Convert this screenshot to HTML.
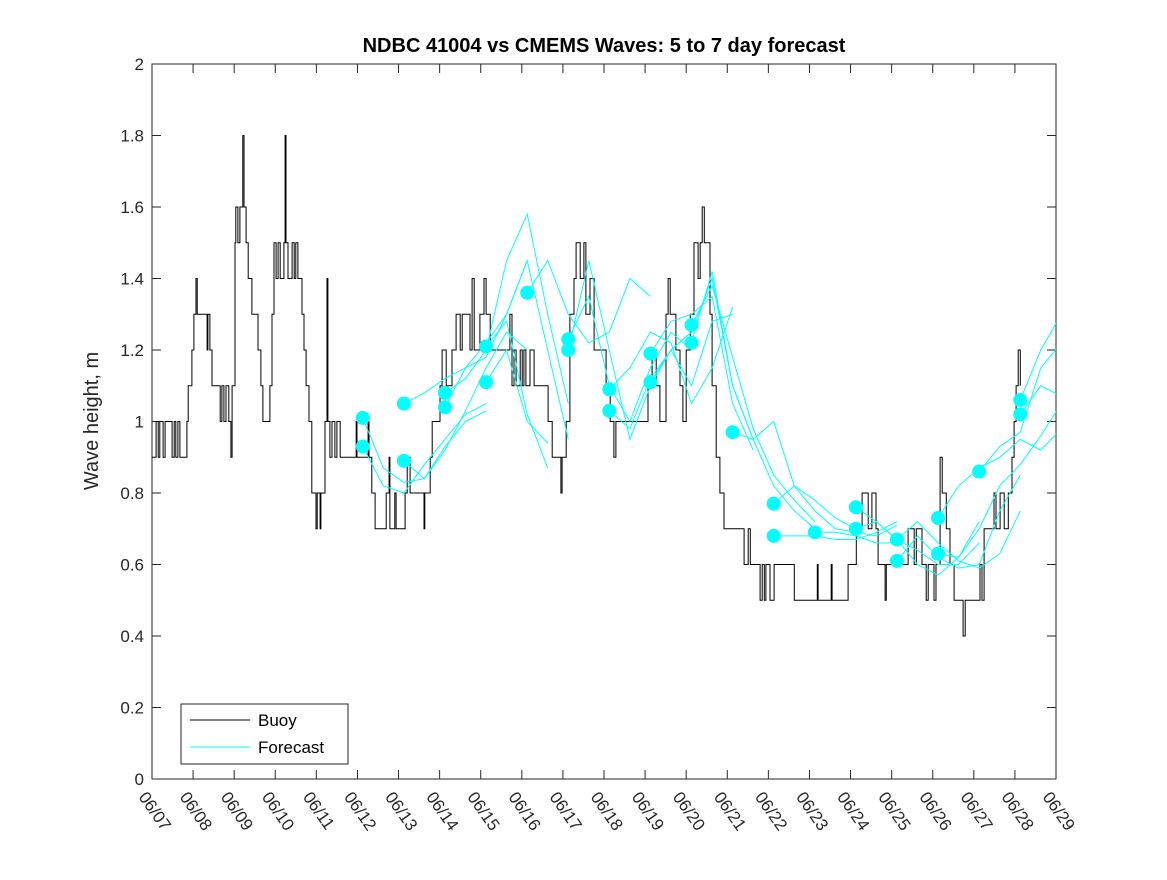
<!DOCTYPE html>
<html><head><meta charset="utf-8"><style>
body{margin:0;background:#fff}
svg text{font-family:"Liberation Sans",sans-serif;fill:#262626}
</style></head><body>
<svg id="chart" width="1167" height="875">
<rect width="1167" height="875" fill="#fff"/>
<text x="604" y="52" font-size="20" font-weight="bold" text-anchor="middle" style="fill:#000">NDBC 41004 vs CMEMS Waves: 5 to 7 day forecast</text>
<text transform="translate(98,421) rotate(-90)" font-size="20" text-anchor="middle">Wave height, m</text>
<g id="axes"></g>
<g id="series" clip-path="url(#clip)"></g>
<defs><clipPath id="clip"><rect x="152" y="64" width="904" height="715"/></clipPath></defs>
<g id="markers"></g>
<g>
<rect x="181" y="704" width="167" height="60" fill="#fff" stroke="#262626" stroke-width="1"/>
<line x1="190" y1="720" x2="250" y2="720" stroke="#000" stroke-width="1"/>
<text x="258" y="726" font-size="17" style="fill:#000">Buoy</text>
<line x1="190" y1="747" x2="250" y2="747" stroke="#00ffff" stroke-width="1"/>
<text x="258" y="753" font-size="17" style="fill:#000">Forecast</text>
</g>
</svg>
<script>
const dayLabels=["06/07","06/08","06/09","06/10","06/11","06/12","06/13","06/14","06/15","06/16","06/17","06/18","06/19","06/20","06/21","06/22","06/23","06/24","06/25","06/26","06/27","06/28","06/29"];
const yTicks=[0,0.2,0.4,0.6,0.8,1,1.2,1.4,1.6,1.8,2];
const buoyDays=[0,.10,.15,.19,.27,.32,.49,.54,.58,.63,.68,.85,.88,.97,1.02,1.07,1.10,1.34,1.36,1.41,1.46,1.66,1.70,1.75,1.80,1.87,1.92,1.95,2.02,2.04,2.09,2.14,2.21,2.24,2.29,2.34,2.43,2.58,2.65,2.70,2.87,2.92,2.97,3.02,3.07,3.12,3.21,3.24,3.26,3.31,3.41,3.46,3.50,3.55,3.65,3.70,3.75,3.82,3.89,3.99,4.02,4.09,4.11,4.21,4.26,4.28,4.33,4.38,4.45,4.50,4.58,4.97,4.99,5.09,5.26,5.28,5.35,5.43,5.70,5.77,5.79,5.91,5.94,6.16,6.21,6.28,6.52,6.62,6.64,6.77,6.82,7.01,7.06,7.16,7.30,7.40,7.50,7.55,7.74,7.79,7.84,7.98,8.08,8.13,8.23,8.59,8.71,8.76,8.81,8.86,8.96,9.01,9.05,9.10,9.20,9.30,9.64,9.74,9.88,9.95,9.98,10.08,10.17,10.27,10.32,10.42,10.51,10.56,10.66,10.76,10.90,11.05,11.15,11.24,11.29,11.39,11.54,12.07,12.17,12.27,12.36,12.51,12.56,12.61,12.75,12.85,12.92,13.00,13.10,13.19,13.29,13.34,13.39,13.44,13.53,13.58,13.63,13.73,13.82,13.92,14.41,14.51,14.56,14.70,14.80,14.85,14.90,14.94,15.04,15.14,15.29,15.63,16.16,16.19,16.21,16.50,16.53,16.55,16.89,16.94,17.04,17.14,17.28,17.43,17.52,17.62,17.67,17.84,17.87,17.96,18.40,18.55,18.60,18.74,18.84,18.89,19.03,19.08,19.18,19.23,19.33,19.42,19.52,19.72,19.74,19.79,20.10,20.15,20.20,20.25,20.40,20.49,20.54,20.64,20.74,20.84,20.93,20.98,21.03,21.08,21.13];
const buoyVals=[0.9,1.0,0.9,1.0,0.9,1.0,0.9,1.0,0.9,1.0,0.9,1.0,1.1,1.2,1.3,1.4,1.3,1.2,1.3,1.2,1.1,1.0,1.1,1.0,1.1,1.0,0.9,1.1,1.5,1.6,1.5,1.6,1.8,1.6,1.5,1.4,1.3,1.2,1.1,1.0,1.1,1.3,1.5,1.4,1.5,1.4,1.5,1.8,1.5,1.4,1.5,1.4,1.5,1.4,1.3,1.2,1.1,1.0,0.8,0.7,0.8,0.7,0.8,1.0,1.4,1.0,0.9,1.0,0.9,1.0,0.9,1.0,0.9,0.9,1.0,0.9,0.8,0.7,0.8,0.9,0.7,0.8,0.7,0.8,0.9,0.8,0.8,0.7,0.8,0.9,1.0,1.1,1.2,1.1,1.2,1.3,1.2,1.3,1.2,1.4,1.2,1.3,1.4,1.3,1.2,1.2,1.3,1.1,1.2,1.1,1.2,1.1,1.2,1.1,1.2,1.1,1.0,0.9,0.9,0.8,0.9,1.0,1.3,1.4,1.5,1.4,1.5,1.3,1.4,1.2,1.2,1.1,1.0,0.9,1.0,1.0,1.0,1.1,1.2,1.1,1.0,1.3,1.4,1.3,1.2,1.1,1.0,1.2,1.3,1.5,1.4,1.5,1.6,1.5,1.5,1.3,1.1,0.9,0.8,0.7,0.6,0.7,0.6,0.6,0.5,0.6,0.5,0.6,0.5,0.6,0.6,0.5,0.5,0.6,0.5,0.5,0.6,0.5,0.5,0.6,0.6,0.7,0.8,0.7,0.8,0.7,0.6,0.5,0.6,0.6,0.7,0.6,0.7,0.6,0.5,0.6,0.5,0.6,0.9,0.8,0.7,0.6,0.5,0.5,0.4,0.5,0.5,0.6,0.5,0.7,0.7,0.8,0.7,0.8,0.7,0.8,0.9,1.0,1.1,1.2,1.1];
const fcStartDays=[5.13,5.13,6.13,6.13,7.13,7.13,8.13,8.13,9.13,10.13,10.13,11.13,11.13,12.13,12.13,13.13,13.13,14.13,15.13,15.13,16.13,17.13,17.13,18.13,18.13,19.13,19.13,20.13,21.13,21.13];
const fcValues=[
[1.01,0.87,0.83,0.84,0.93,1.0,1.03],
[0.93,0.82,0.80,0.88,0.95,1.02,1.05],
[1.05,1.08,1.12,1.15,1.22,1.30,1.45],
[0.89,0.84,0.92,1.03,1.15,1.25,1.20],
[1.08,1.12,1.20,1.45,1.58,1.30,1.05],
[1.04,1.15,1.18,1.30,1.45,1.20,0.95],
[1.21,1.28,1.02,0.87],
[1.11,1.20,1.00,0.94],
[1.36,1.45,1.30,1.22,1.25,1.40,1.35],
[1.23,1.35,1.10,1.00,1.15,1.25,1.20],
[1.20,1.45,1.20,0.95,1.10,1.20,1.25],
[1.09,1.15,1.25,1.22,1.05,1.15,1.32],
[1.03,0.98,1.12,1.20,1.10,1.28,1.30],
[1.19,1.28,1.30,1.35,1.05,0.92],
[1.11,1.20,1.25,1.40,1.10,0.95],
[1.27,1.38,1.18,0.98,0.85,0.78,0.72],
[1.22,1.42,1.10,0.95,0.82,0.75,0.70],
[0.97,0.95,1.00,0.82,0.78,0.73,0.70],
[0.77,0.82,0.75,0.70,0.69,0.68,0.71],
[0.68,0.68,0.68,0.67,0.67,0.69,0.72],
[0.69,0.69,0.68,0.66,0.66],
[0.76,0.72,0.67,0.64,0.60,0.60,0.66],
[0.70,0.72,0.67,0.60,0.57,0.62,0.72],
[0.67,0.72,0.66,0.61,0.59,0.63,0.75],
[0.61,0.68,0.62,0.59,0.60,0.75,0.85],
[0.73,0.82,0.87,0.90,0.95,0.92,0.98],
[0.63,0.62,0.70,0.82,0.88,0.96,1.05],
[0.86,0.93,0.97,1.15,1.22,1.30,1.30],
[1.06,1.20,1.30,1.33],
[1.02,1.10,1.07]];
const fcStep=0.5;

const X0=152,X1=1056,Y0=779,Y1=64,D=22,VMAX=2;
const xs=d=>X0+d*(X1-X0)/D;
const ys=v=>Y0-v*(Y0-Y1)/VMAX;
const NS="http://www.w3.org/2000/svg";
function mk(tag,attrs,parent){const e=document.createElementNS(NS,tag);for(const k in attrs)e.setAttribute(k,attrs[k]);parent.appendChild(e);return e;}
const axes=document.getElementById('axes');
const box=mk('rect',{x:X0,y:Y1,width:X1-X0,height:Y0-Y1,fill:'none',stroke:'#262626','stroke-width':1},axes);


yTicks.forEach(v=>{
  const y=ys(v);
  const t1=mk('line',{x1:X0,y1:y,x2:X0+9,y2:y,stroke:'#262626'},axes);
  
  
  const t2=mk('line',{x1:X1-9,y1:y,x2:X1,y2:y,stroke:'#262626'},axes);
  
  
  const tx=mk('text',{x:X0-8,y:y+6,'font-size':17,'text-anchor':'end'},axes);
  tx.textContent=String(v);
  
  
});
dayLabels.forEach((lab,i)=>{
  const x=xs(i);
  const t1=mk('line',{x1:x,y1:Y0,x2:x,y2:Y0-9,stroke:'#262626'},axes);
  
  
  const t2=mk('line',{x1:x,y1:Y1,x2:x,y2:Y1+9,stroke:'#262626'},axes);
  
  
  const tx=mk('text',{transform:`translate(${x-14},${Y0+18}) rotate(55)`,'font-size':17},axes);
  tx.textContent=lab;
  
  
});
const series=document.getElementById('series');
let p='';
buoyDays.forEach((d,i)=>{
  const x=xs(d).toFixed(1),y=ys(buoyVals[i]).toFixed(1);
  if(i===0)p+=`M${x},${y}`;else p+=`H${x}V${y}`;
});
const bl=mk('path',{d:p,fill:'none',stroke:'#000','stroke-width':1},series);


const mg=document.getElementById('markers');
fcValues.forEach((vals,k)=>{
  const pts=vals.map((v,j)=>xs(fcStartDays[k]+j*fcStep).toFixed(1)+','+ys(v).toFixed(1)).join(' ');
  const l=mk('polyline',{points:pts,fill:'none',stroke:'#00ffff','stroke-width':1},series);
  
  
  const c=mk('circle',{cx:xs(fcStartDays[k]),cy:ys(vals[0]),r:7,fill:'#00ffff'},mg);
  
  
});
</script>
</body></html>
